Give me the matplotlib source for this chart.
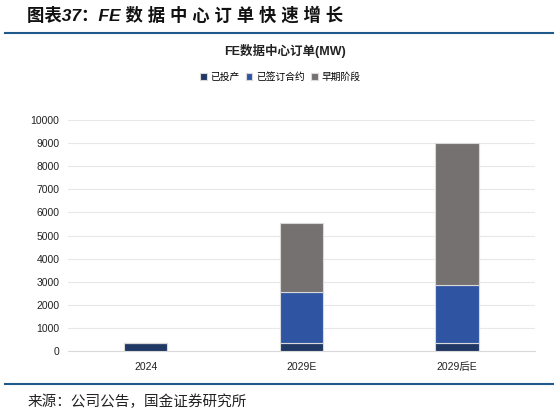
import matplotlib
matplotlib.use("Agg")
import matplotlib.pyplot as plt
import numpy as np

plt.rcParams['font.family'] = ['Liberation Sans', 'Noto Sans CJK SC', 'DejaVu Sans']

categories = ['2024', '2029E', '2029后E']
in_operation = [350, 350, 350]      # 已投产
contracted = [0, 2200, 2500]        # 已签订合约
early_stage = [0, 3000, 6150]       # 早期阶段
series_names = ['已投产', '已签订合约', '早期阶段']
colors = ['#1F3864', '#2F55A2', '#767171']

fig = plt.figure(figsize=(5.56, 4.15), dpi=100)
ax = fig.add_axes([0.122, 0.154, 0.840, 0.557])

x = np.arange(len(categories))
w = 0.28
bottom = np.zeros(len(categories))
for vals, name, c in zip([in_operation, contracted, early_stage], series_names, colors):
    ax.bar(x, vals, width=w, bottom=bottom, color=c, label=name,
           edgecolor='#d9d9d9', linewidth=0.8, zorder=3)
    bottom += np.array(vals)

ax.set_xlim(-0.5, 2.5)
ax.set_ylim(0, 10000)
ax.set_yticks(np.arange(0, 10001, 1000))
ax.set_xticks(x)
ax.set_xticklabels(categories)
ax.grid(axis='y', color='#e8e8e8', linewidth=0.8, zorder=0)
for s in ['top', 'right', 'left']:
    ax.spines[s].set_visible(False)
ax.spines['bottom'].set_color('#d9d9d9')
ax.tick_params(axis='both', length=0, labelsize=7.5, colors='#222222')
ax.tick_params(axis='x', pad=8)
ax.tick_params(axis='y', pad=6)

# chart title and legend
fig.text(0.513, 0.877, 'FE数据中心订单(MW)', ha='center', va='center',
         fontsize=9, fontweight='bold', color='#222222')
fig.legend(loc='center', bbox_to_anchor=(0.504, 0.814), ncol=3, frameon=False,
           handlelength=0.7, handleheight=0.7, handletextpad=0.4,
           columnspacing=0.6, prop={'family': ['Noto Sans CJK SC'], 'size': 7})

# page header / footer
fig.text(0.049, 0.964, '图表37：FE 数 据 中 心 订 单 快 速 增 长', ha='left', va='center',
         fontsize=12.5, fontweight='bold', style='italic', color='#111111',
         family=['Liberation Sans', 'Noto Sans CJK SC'])
fig.add_artist(plt.Line2D([0.009, 0.995], [0.920, 0.920], color='#1F5A8A', linewidth=1.5))
fig.add_artist(plt.Line2D([0.009, 0.995], [0.075, 0.075], color='#1F5A8A', linewidth=1.5))
fig.text(0.049, 0.031, '来源：公司公告，国金证券研究所', ha='left', va='center',
         fontsize=10.5, color='#222222', family=['Noto Sans CJK SC'])

fig.savefig('out.png', dpi=100)
